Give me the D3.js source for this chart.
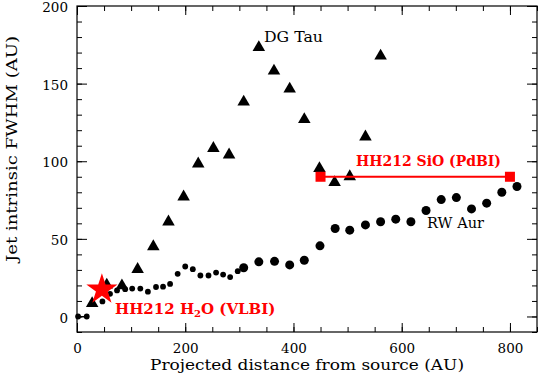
<!DOCTYPE html>
<html>
<head>
<meta charset="utf-8">
<script src="https://cdn.jsdelivr.net/npm/d3@7"></script>
<style>
  body { margin: 0; background: #fff; }
  svg text { font-family: "DejaVu Serif", serif; }
</style>
</head>
<body>
<div id="chart"></div>
<script>
// DG Tau (triangles)
var dgTauX = [28, 55, 83, 112, 141, 169, 197, 224, 252, 281, 308, 336, 364, 393, 420, 448, 476, 504, 533, 561];
var dgTauY = [9, 21, 20.5, 31, 45.7, 61.6, 77.7, 99, 109, 104.8, 138.8, 174, 158.8, 147.2, 127.6, 96, 87, 90.8, 116.4, 168.5];

// RW Aur (small dots, then large dots)
var rwSmallX = [2, 18, 47, 61, 74, 89, 102, 117, 131, 146, 159, 172, 186, 200, 214, 228, 243, 257, 270, 283, 297];
var rwSmallY = [0, 0, 9.7, 14.6, 16.8, 17.6, 18, 18, 16, 19, 19.2, 21, 27.5, 32.2, 30.5, 26.4, 26.4, 28.3, 27, 25.4, 29.2];
var rwLargeX = [308, 336, 365, 393, 420, 449, 477, 504, 533, 561, 589, 617, 645, 673, 701, 729, 757, 785, 813];
var rwLargeY = [31.4, 35.2, 35.5, 33.2, 36.2, 45.5, 56.7, 55.6, 59, 61, 62.7, 61, 68.3, 75.3, 76.6, 69.3, 73, 80, 83.7];

// HH212
var sioX = [450, 800];
var sioY = [90, 90];
var h2oX = [46];
var h2oY = [18.3];

var xTicks = [0, 200, 400, 600, 800];
var yTicks = [0, 50, 100, 150, 200];

var W = 538, H = 376;
var pLeft = 77, pRight = 537, pTop = 6, pBottom = 332;

var svg = d3.select("#chart").append("svg")
  .attr("width", W)
  .attr("height", H);

var x = d3.scaleLinear().domain([0, 850]).range([pLeft, pRight]);
var y = d3.scaleLinear().domain([-10, 200]).range([pBottom, pTop]);

// frame
svg.append("rect")
  .attr("x", pLeft).attr("y", pTop)
  .attr("width", pRight - pLeft).attr("height", pBottom - pTop)
  .attr("fill", "none").attr("stroke", "#000").attr("stroke-width", 1.2);

// ticks, all pointing inward
var minorX = d3.range(0, 851, 50);
var minorY = d3.range(-10, 201, 10);

function addAxis(axis, tx, ty, labels) {
  var g = svg.append("g")
    .attr("transform", "translate(" + tx + "," + ty + ")")
    .call(axis);
  g.select(".domain").remove();
  g.selectAll("line").attr("stroke", "#000").attr("stroke-width", 1);
  if (!labels) g.selectAll("text").remove();
  return g;
}

addAxis(d3.axisBottom(x).tickValues(minorX).tickSize(-5), 0, pBottom, false);
addAxis(d3.axisTop(x).tickValues(minorX).tickSize(-5), 0, pTop, false);
addAxis(d3.axisLeft(y).tickValues(minorY).tickSize(-5), pLeft, 0, false);
addAxis(d3.axisRight(y).tickValues(minorY).tickSize(-5), pRight, 0, false);

var xb = addAxis(d3.axisBottom(x).tickValues(xTicks).tickSize(-9).tickPadding(11), 0, pBottom, true);
xb.selectAll("text").attr("font-size", 13.5).attr("fill", "#000").attr("font-family", "DejaVu Serif");
addAxis(d3.axisTop(x).tickValues(xTicks).tickSize(-9), 0, pTop, false);
var yl = addAxis(d3.axisLeft(y).tickValues(yTicks).tickSize(-10).tickPadding(9), pLeft, 0, true);
yl.selectAll("text").attr("font-size", 13.5).attr("dy", "0.42em").attr("fill", "#000").attr("font-family", "DejaVu Serif");
addAxis(d3.axisRight(y).tickValues(yTicks).tickSize(-10), pRight, 0, false);

// axis titles
svg.append("text")
  .attr("x", 307).attr("y", 370)
  .attr("text-anchor", "middle")
  .attr("font-size", 14.5)
  .attr("textLength", 314)
  .attr("lengthAdjust", "spacingAndGlyphs")
  .text("Projected distance from source (AU)");

svg.append("text")
  .attr("transform", "translate(17,149) rotate(-90)")
  .attr("text-anchor", "middle")
  .attr("font-size", 14.5)
  .attr("textLength", 226)
  .attr("lengthAdjust", "spacingAndGlyphs")
  .text("Jet intrinsic FWHM (AU)");

// RW Aur
svg.append("line")
  .attr("x1", x(rwSmallX[0])).attr("y1", y(rwSmallY[0]))
  .attr("x2", x(rwSmallX[1])).attr("y2", y(rwSmallY[1]))
  .attr("stroke", "#000").attr("stroke-width", 1);

svg.selectAll(".rws")
  .data(d3.range(rwSmallX.length))
  .enter().append("circle")
  .attr("cx", function(i) { return x(rwSmallX[i]); })
  .attr("cy", function(i) { return y(rwSmallY[i]); })
  .attr("r", 2.9)
  .attr("fill", "#000");

svg.selectAll(".rwl")
  .data(d3.range(rwLargeX.length))
  .enter().append("circle")
  .attr("cx", function(i) { return x(rwLargeX[i]); })
  .attr("cy", function(i) { return y(rwLargeY[i]); })
  .attr("r", 4.5)
  .attr("fill", "#000");

// DG Tau
var tri = d3.symbol().type(d3.symbolTriangle).size(68);
svg.selectAll(".dg")
  .data(d3.range(dgTauX.length))
  .enter().append("path")
  .attr("d", tri)
  .attr("transform", function(i) { return "translate(" + x(dgTauX[i]) + "," + (y(dgTauY[i]) + 1) + ")"; })
  .attr("fill", "#000");

// HH212 SiO
svg.append("line")
  .attr("x1", x(sioX[0])).attr("y1", y(sioY[0]))
  .attr("x2", x(sioX[1])).attr("y2", y(sioY[1]))
  .attr("stroke", "#ff0000").attr("stroke-width", 1.8);

svg.selectAll(".sio")
  .data(d3.range(sioX.length))
  .enter().append("rect")
  .attr("x", function(i) { return x(sioX[i]) - 5; })
  .attr("y", function(i) { return y(sioY[i]) - 5; })
  .attr("width", 10).attr("height", 10)
  .attr("fill", "#ff0000");

// HH212 H2O
var star = d3.symbol().type(d3.symbolStar).size(300);
svg.selectAll(".h2o")
  .data(d3.range(h2oX.length))
  .enter().append("path")
  .attr("d", star)
  .attr("transform", function(i) { return "translate(" + x(h2oX[i]) + "," + (y(h2oY[i]) + 1.5) + ")"; })
  .attr("fill", "#ff0000");

// labels
svg.append("text")
  .attr("x", 264).attr("y", 42)
  .attr("font-size", 15)
  .attr("textLength", 59)
  .attr("lengthAdjust", "spacingAndGlyphs")
  .text("DG Tau");

svg.append("text")
  .attr("x", 427).attr("y", 228)
  .attr("font-size", 15)
  .attr("textLength", 57)
  .attr("lengthAdjust", "spacingAndGlyphs")
  .text("RW Aur");

svg.append("text")
  .attr("x", 356).attr("y", 166)
  .attr("font-size", 15)
  .attr("font-weight", "bold")
  .attr("fill", "#ff0000")
  .attr("textLength", 145)
  .attr("lengthAdjust", "spacingAndGlyphs")
  .text("HH212 SiO (PdBI)");

var h2oLabel = svg.append("text")
  .attr("x", 115).attr("y", 314)
  .attr("font-size", 15)
  .attr("font-weight", "bold")
  .attr("fill", "#ff0000");
h2oLabel.append("tspan").text("HH212 H");
h2oLabel.append("tspan").attr("font-size", 10).attr("dy", 3).text("2");
h2oLabel.append("tspan").attr("dy", -3).text("O (VLBI)");
</script>
</body>
</html>
